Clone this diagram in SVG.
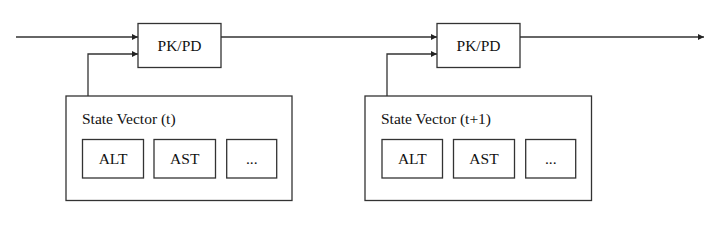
<svg xmlns="http://www.w3.org/2000/svg" width="719" height="250" viewBox="0 0 719 250">
<style>
.box{fill:#fff;stroke:#333;stroke-width:1.3}
.ln{fill:none;stroke:#333;stroke-width:1.3}
text{font-family:"Liberation Serif","Times New Roman",serif;font-size:15.5px;fill:#111}
.c{text-anchor:middle}
</style>
<defs>
<marker id="ah" markerWidth="6" markerHeight="6" refX="6" refY="3" orient="auto" markerUnits="userSpaceOnUse">
<path d="M0,0 L6,3 L0,6 Z" fill="#222"/>
</marker>
</defs>
<g id="connectors">
<path class="ln" d="M16,37 H138" marker-end="url(#ah)"/>
<path class="ln" d="M88,96 V54 H138" marker-end="url(#ah)"/>
<path class="ln" d="M221,37 H437" marker-end="url(#ah)"/>
<path class="ln" d="M387,96 V54 H437" marker-end="url(#ah)"/>
<path class="ln" d="M520,37 H704" marker-end="url(#ah)"/>
</g>
<g id="pkpd1"><rect class="box" x="138" y="23.5" width="83" height="44"/><text class="c" x="179.5" y="51">PK/PD</text></g>
<g id="pkpd2"><rect class="box" x="437" y="23.5" width="83" height="44"/><text class="c" x="478.5" y="51">PK/PD</text></g>
<g id="state1">
<rect class="box" x="66" y="96" width="226" height="104.5"/>
<text x="82" y="124">State Vector (t)</text>
</g>
<g id="alt1"><rect class="box" x="82.5" y="139.5" width="61" height="38.5"/><text class="c" x="113" y="164">ALT</text></g>
<g id="ast1"><rect class="box" x="154" y="139.5" width="61.5" height="38.5"/><text class="c" x="184.75" y="164">AST</text></g>
<g id="etc1"><rect class="box" x="226.7" y="139.5" width="50" height="38.5"/><text class="c" x="251.7" y="164">...</text></g>
<g id="state2">
<rect class="box" x="365" y="96" width="226.5" height="104.5"/>
<text x="381" y="124">State Vector (t+1)</text>
</g>
<g id="alt2"><rect class="box" x="382" y="139.5" width="60.5" height="38.5"/><text class="c" x="412.25" y="164">ALT</text></g>
<g id="ast2"><rect class="box" x="453.5" y="139.5" width="61" height="38.5"/><text class="c" x="484" y="164">AST</text></g>
<g id="etc2"><rect class="box" x="525.7" y="139.5" width="50" height="38.5"/><text class="c" x="550.7" y="164">...</text></g>
</svg>
